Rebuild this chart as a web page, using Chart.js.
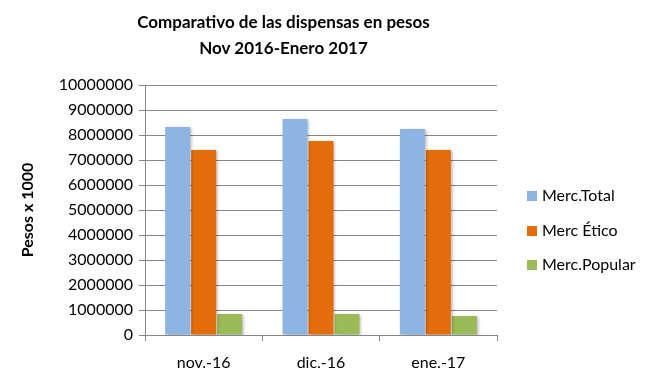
<!DOCTYPE html>
<html><head><meta charset="utf-8">
<script src="https://cdn.jsdelivr.net/npm/chart.js@4.4.1/dist/chart.umd.min.js"></script>
<style>
html,body{margin:0;padding:0;background:#fff;}
#wrap{position:relative;width:656px;height:385px;}
#title{position:absolute;left:0;top:9px;width:567px;text-align:center;font-family:Lato,"Open Sans",sans-serif;font-weight:bold;font-size:17px;line-height:26px;color:#000;}
canvas{position:absolute;left:0;top:0;}
</style></head>
<body><div id="wrap"><canvas id="c" width="656" height="385"></canvas>
<div id="title">Comparativo de las dispensas en pesos<br>Nov 2016-Enero 2017</div></div>
<script>
const categories = ["nov.-16", "dic.-16", "ene.-17"];
const mercTotal = [8320000, 8640000, 8240000];
const mercEtico = [7400000, 7760000, 7400000];
const mercPopular = [840000, 840000, 760000];
const seriesNames = ["Merc.Total", "Merc Ético", "Merc.Popular"];
const seriesColors = ["#8DB4E2", "#E46C0A", "#9BBB59"];
const FONT = "Lato, 'Open Sans', sans-serif";

const shadowPlugin = {
  id: 'shadow',
  beforeDatasetsDraw(chart){ const c=chart.ctx; c.save(); c.shadowColor='rgba(0,0,0,0.28)'; c.shadowBlur=3; c.shadowOffsetX=2; c.shadowOffsetY=1; },
  afterDatasetsDraw(chart){ chart.ctx.restore(); }
};
const legendPlugin = {
  id: 'customLegend',
  afterDraw(chart){
    const c = chart.ctx; c.save();
    const ys = [196, 231, 265];
    chart.data.datasets.forEach((ds,i)=>{
      c.fillStyle = ds.backgroundColor;
      c.fillRect(527, ys[i]-5, 10, 10);
      c.fillStyle = '#000';
      c.font = "16px " + FONT;
      c.textBaseline = 'middle';
      c.fillText(ds.label, 542, ys[i]);
    });
    c.restore();
  }
};

new Chart(document.getElementById('c'), {
  type: 'bar',
  data: {
    labels: categories,
    datasets: [
      {label: seriesNames[0], data: mercTotal, backgroundColor: seriesColors[0]},
      {label: seriesNames[1], data: mercEtico, backgroundColor: seriesColors[1]},
      {label: seriesNames[2], data: mercPopular, backgroundColor: seriesColors[2]}
    ]
  },
  options: {
    responsive: false,
    animation: false,
    devicePixelRatio: 1,
    layout: {padding: {top: 85, right: 159, bottom: 0, left: 0}},
    datasets: {bar: {categoryPercentage: 0.665, barPercentage: 0.96, borderWidth: 0}},
    plugins: {legend: {display: false}, title: {display: false}, tooltip: {enabled: false}},
    scales: {
      x: {
        grid: {display: true, drawOnChartArea: false, offset: true, tickLength: 6, color: '#868686'},
        border: {display: true, color: '#868686'},
        ticks: {font: {family: FONT, size: 16}, color: '#000', padding: 12},
        afterFit(s){ s.height = 50; }
      },
      y: {
        min: 0, max: 10000000,
        ticks: {stepSize: 1000000, font: {family: FONT, size: 16}, color: '#000', padding: 6,
          callback: v => String(v)},
        grid: {color: '#868686', tickLength: 6},
        border: {display: true, color: '#868686'},
        title: {display: true, text: 'Pesos x 1000', font: {family: FONT, size: 16, weight: 'bold'}, color: '#000', padding: {top: 18, bottom: 0}},
        afterFit(s){ s.width = 145; }
      }
    }
  },
  plugins: [shadowPlugin, legendPlugin]
});
</script></body></html>
